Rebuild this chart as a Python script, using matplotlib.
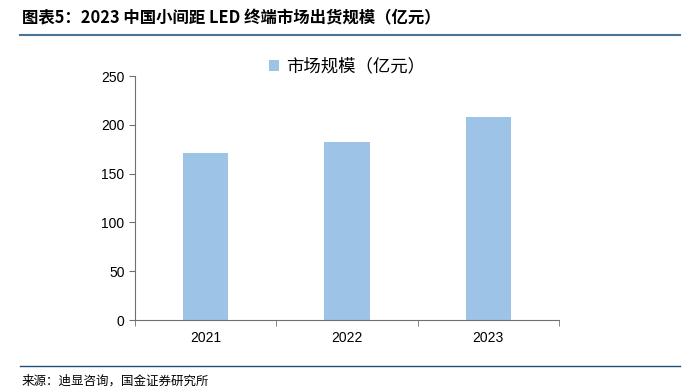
import matplotlib.pyplot as plt
import numpy as np

plt.rcParams['font.family'] = ['Noto Sans CJK SC', 'DejaVu Sans']

years = ['2021', '2022', '2023']
market = [171, 182, 208]  # 亿元

fig = plt.figure(figsize=(6.89, 3.88), dpi=100)
ax = fig.add_axes([135/689, 1-320/388, (559-135)/689, (320-76)/388])

x = np.arange(len(years))
ax.bar(x, market, width=0.32, color='#9DC3E6', label='市场规模（亿元）')

ax.set_xlim(-0.5, 2.5)
ax.set_ylim(0, 250)
ax.set_yticks([0, 50, 100, 150, 200, 250])
ax.set_xticks(x)
ax.set_xticklabels(years, family=['Liberation Sans', 'DejaVu Sans'])
ax.set_xticks([-0.5, 0.5, 1.5, 2.5], minor=True)
ax.tick_params(axis='x', which='major', length=0, pad=8, labelsize=10)
ax.tick_params(axis='x', which='minor', length=4, color='#707070', direction='out')
ax.tick_params(axis='y', length=4, color='#707070', labelsize=10)
for lab in ax.get_yticklabels():
    lab.set_family(['Liberation Sans', 'DejaVu Sans'])
for s in ['top', 'right']:
    ax.spines[s].set_visible(False)
for s in ['left', 'bottom']:
    ax.spines[s].set_color('#707070')

ax.legend(loc='upper center', bbox_to_anchor=(0.5, 1.14), frameon=False,
          fontsize=12.5, handlelength=0.6, handleheight=0.6, handletextpad=0.4)

fig.text(22/689, 1-18/388, '图表5：2023 中国小间距 LED 终端市场出货规模（亿元）',
         fontsize=11.8, fontweight='bold', style='italic', va='center', ha='left')
fig.add_artist(plt.Line2D([20/689, 680/689], [1-35/388, 1-35/388], color='#4A7394', lw=1.5))
fig.add_artist(plt.Line2D([20/689, 680/689], [1-366/388, 1-366/388], color='#1F4E79', lw=1.0))
fig.text(22/689, 1-381/388, '来源：迪显咨询，国金证券研究所', fontsize=9, va='center', ha='left')

fig.savefig('out.png', dpi=100)
